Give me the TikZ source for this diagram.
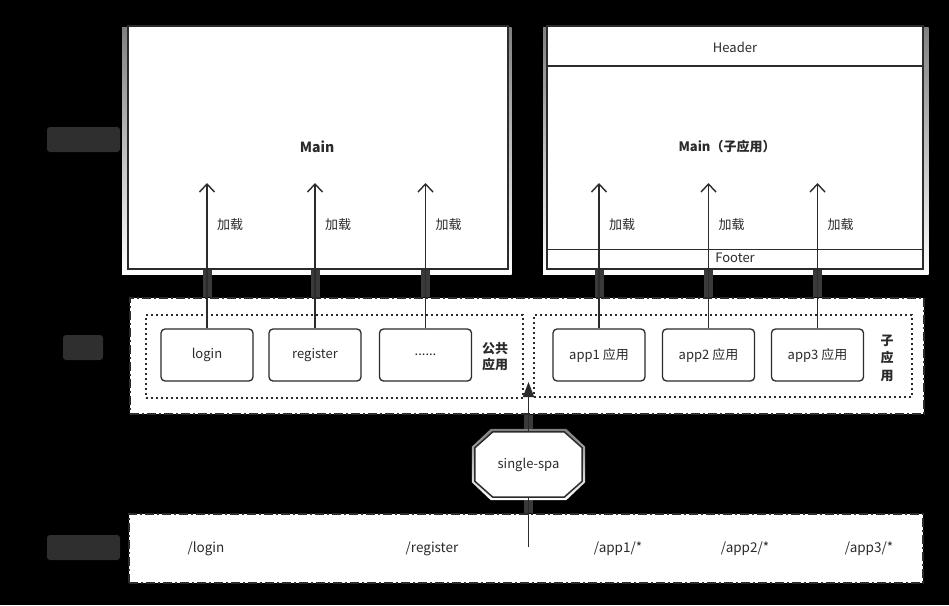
\documentclass[tikz,border=0pt]{standalone}
\usepackage{fontspec}
\setmainfont{Noto Sans CJK SC}
\usetikzlibrary{arrows.meta,calc}

\definecolor{ink}{HTML}{2B2B2B}
\definecolor{shade}{HTML}{4A4A4A}
\definecolor{lineshade}{HTML}{3A3A3A}
\definecolor{blob}{HTML}{2F2F2F}

\pgfdeclarelayer{bg}
\pgfdeclarelayer{mid}
\pgfsetlayers{bg,mid,main}

\begin{document}
\begin{tikzpicture}[x=1pt,y=-1pt,
  panel/.style={draw=ink,line width=1.5pt,fill=white,inner sep=0pt},
  appbox/.style={draw=ink,line width=1.3pt,fill=white,rounded corners=4pt,
    minimum width=92pt,minimum height=52pt,inner sep=0pt,
    font=\fontsize{13}{15}\selectfont,text=ink},
  lbl/.style={text=ink,font=\fontsize{13}{15}\selectfont,inner sep=0pt},
  route/.style={text=ink,font=\fontsize{13.5}{15}\selectfont,inner sep=0pt},
  vlbl/.style={text=ink,font=\fontsize{13}{16}\selectfont\bfseries,align=center,inner sep=0pt},
  outerbox/.style={draw=ink,line width=2pt,fill=white,inner sep=0pt,
    dash pattern=on 9pt off 3pt on 2pt off 3pt},
  groupbox/.style={draw=ink,line width=1.6pt,inner sep=0pt,
    dash pattern=on 2pt off 3pt},
  load/.style={draw=ink,line width=1.4pt,
    -{Straight Barb[length=8pt,width=15pt,line width=1.4pt]}},
  feed/.style={draw=ink,line width=1.4pt,-{Triangle[length=15pt,width=11pt]}},
  plain/.style={draw=ink,line width=1.4pt},
  lshadow/.style={draw=lineshade,line width=9pt}
]
\useasboundingbox (0,0) rectangle (949,605);

% ---------- page panels ----------
\node[panel,minimum width=380pt,minimum height=243pt,anchor=north west] (pageL) at (127,25) {};
\node[panel,minimum width=376pt,minimum height=243pt,anchor=north west] (pageR) at (546,25) {};
\draw[ink,line width=1.6pt] ($(pageR.north west)+(0,41)$) -- ($(pageR.north east)+(0,41)$);
\draw[ink,line width=1.6pt] ($(pageR.south west)+(0,-20)$) -- ($(pageR.south east)+(0,-20)$);

\node[lbl,font=\fontsize{14}{16}\selectfont\bfseries] (mainL) at (317,147) {Main};
\node[lbl] (header) at (735,47) {Header};
\node[lbl,font=\fontsize{13}{15}\selectfont\bfseries] (mainR) at (727,147) {Main（子应用）};
\node[lbl] (footer) at (735,258) {Footer};

% ---------- application layer ----------
\node[outerbox,minimum width=794pt,minimum height=116pt,anchor=north west] (apps) at (129,297) {};
\node[groupbox,minimum width=377pt,minimum height=83pt,anchor=north west] (pub) at (145,314) {};
\node[groupbox,minimum width=378pt,minimum height=82pt,anchor=north west] (sub) at (533,314) {};

\node[appbox] (login) at (207,355) {login};
\node[appbox] (register) at (315,355) {register};
\node[appbox] (more) at (425.5,355) {......};
\node[appbox] (app1) at (599,355) {app1 应用};
\node[appbox] (app2) at (708.5,355) {app2 应用};
\node[appbox] (app3) at (817.5,355) {app3 应用};

\node[vlbl] (pubname) at (495,357) {公共\\应用};
\node[vlbl,font=\fontsize{13}{17.5}\selectfont\bfseries] (subname) at (887,358) {子\\应\\用};

% ---------- single-spa ----------
\node[text=ink,font=\fontsize{13}{15}\selectfont,minimum width=107pt,minimum height=65pt,inner sep=0pt]
  (spa) at (528.5,464.5) {single-spa};
\begin{pgfonlayer}{mid}
\draw[panel]
  ($(spa.north west)+(18,0)$) -- ($(spa.north east)+(-18,0)$) --
  ($(spa.north east)+(0,16)$) -- ($(spa.south east)+(0,-16)$) --
  ($(spa.south east)+(-18,0)$) -- ($(spa.south west)+(18,0)$) --
  ($(spa.south west)+(0,-16)$) -- ($(spa.north west)+(0,16)$) -- cycle;
\end{pgfonlayer}

% ---------- routes ----------
\node[outerbox,minimum width=794pt,minimum height=69pt,anchor=north west] (routes) at (128,513) {};
\node[route] (rlogin) at (206,549) {/login};
\node[route] (rregister) at (432,549) {/register};
\node[route] (rapp1) at (618,549) {/app1/*};
\node[route] (rapp2) at (745,549) {/app2/*};
\node[route] (rapp3) at (869,549) {/app3/*};
\coordinate (entry) at (528.5,547);

% ---------- connectors ----------
\coordinate (tipY) at (0,183);
\coordinate (feedY) at (0,382);
\foreach \n in {login,register,more,app1,app2,app3}{
  \draw[load] (\n.north) -- (\n.north |- tipY);
  \node[lbl,anchor=west] at ($(\n.north |- tipY)+(10,42)$) {加载};
}
\draw[feed] (spa.north) -- (spa.north |- feedY);
\draw[plain] (entry) -- (spa.south);

% ---------- shadows and side marks ----------
\begin{pgfonlayer}{bg}
\fill[black] (0,0) rectangle (949,605);
\fill[blob,rounded corners=3pt] (47,127) rectangle (120,152);
\fill[blob,rounded corners=3pt] (63,335) rectangle (103,360);
\fill[blob,rounded corners=3pt] (47,535) rectangle (120,560);
\fill[shade] ($(pageL.north west)+(-5,2)$) rectangle ($(pageL.south east)+(3,5)$);
\fill[shade] ($(pageR.north west)+(-3,2)$) rectangle ($(pageR.south east)+(5,5)$);
\foreach \n in {login,register,more,app1,app2,app3}{
  \draw[lshadow] (\n.north |- pageL.south) -- (\n.north |- apps.north);
}
\draw[lshadow] (spa.north |- apps.south) -- (spa.north);
\draw[lshadow] (spa.south) -- (spa.south |- routes.north);
\fill[shade]
  ($(spa.north west)+(16,-3)$) -- ($(spa.north east)+(-16,-3)$) --
  ($(spa.north east)+(3,15)$) -- ($(spa.south east)+(3,-15)$) --
  ($(spa.south east)+(-16,3)$) -- ($(spa.south west)+(16,3)$) --
  ($(spa.south west)+(-3,-15)$) -- ($(spa.north west)+(-3,15)$) -- cycle;
\end{pgfonlayer}
\end{tikzpicture}
\end{document}
